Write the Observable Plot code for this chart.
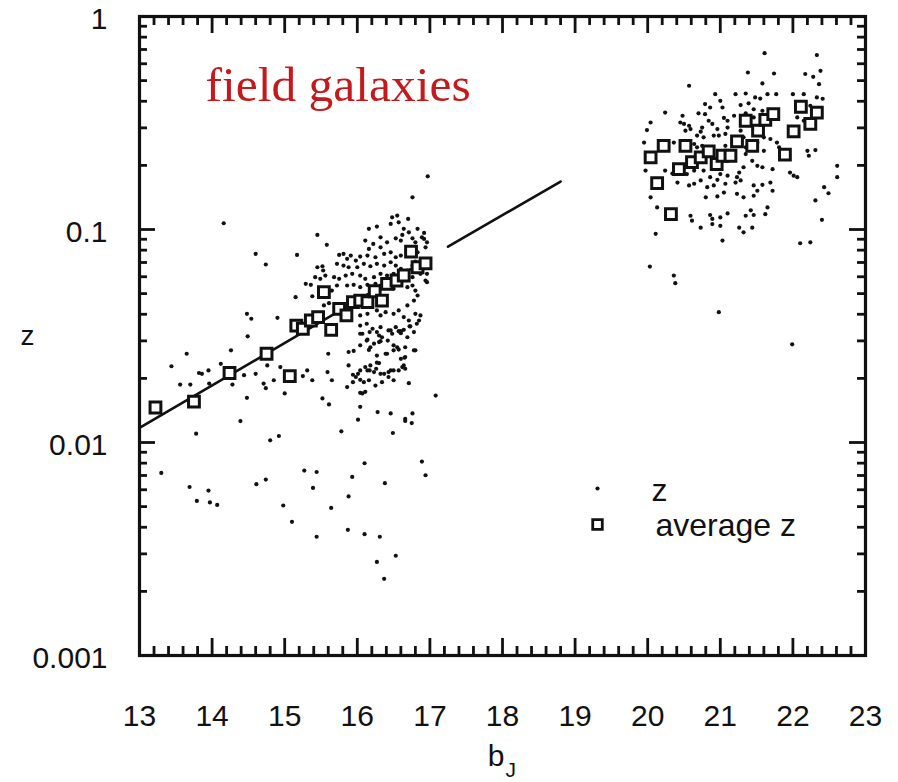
<!DOCTYPE html>
<html><head><meta charset="utf-8">
<script src="https://cdn.jsdelivr.net/npm/d3@7"></script>
<script src="https://cdn.jsdelivr.net/npm/@observablehq/plot@0.6"></script>
<style>
html,body{margin:0;padding:0;background:#fff;}
#chart{width:898px;height:782px;}
</style></head><body><div id="chart"></div>
<script>
// ---- tick labels ----
const xTickLabels = [13,14,15,16,17,18,19,20,21,22,23];
const yTickLabels = [1,0.1,0.01,0.001];
const yTickText = ["1","0.1","0.01","0.001"];
const titleText = "field galaxies";
const legendLabels = ["z","average z"];
const xLabel = ["b","J"];
const yLabel = "z";

// ---- individual galaxy redshifts [bJ, z] ----
const zPoints = [
[13.78,0.0110],[13.30,0.00720],[13.69,0.00618],[13.79,0.00532],[13.95,0.00595],[13.97,0.00523],[14.07,0.00509],[14.39,0.0126],[14.61,0.00637],[14.74,0.00670],[14.80,0.01024],[14.92,0.01073],[14.98,0.00506],[15.10,0.00424],[15.27,0.00738],[15.44,0.00727],[15.39,0.00612],[15.44,0.00361],[15.64,0.00493],[15.78,0.01128],[15.93,0.00689],[15.88,0.00558],[15.87,0.00389],[16.10,0.00799],[16.10,0.00371],[16.31,0.00361],[16.27,0.00275],[16.37,0.00229],[16.38,0.00644],[16.53,0.00294],[16.49,0.01108],[16.66,0.01262],[16.75,0.01234],[16.89,0.00814],[16.94,0.00702],
[14.16,0.107],[14.60,0.0769],[14.74,0.0685],[15.17,0.0760],[15.45,0.0943],[15.58,0.0847],[15.15,0.0481],[14.48,0.0402],[14.54,0.0381],[14.90,0.0385],[14.49,0.0315],[13.65,0.0261],[13.44,0.0228],[14.26,0.0271],[14.12,0.0234],[13.82,0.0212],[13.86,0.0210],[13.95,0.0218],[13.56,0.0187],[13.70,0.0187],[13.96,0.0189],[14.28,0.0187],[14.44,0.0207],[14.60,0.0210],[14.71,0.0189],[14.74,0.0180],[14.76,0.0230],[14.94,0.0226],[14.85,0.0196],[14.48,0.0162],[15.00,0.0170],[15.25,0.0205],[15.31,0.0218],[15.38,0.0196],[15.59,0.0214],[15.52,0.0161],[15.61,0.0151],[15.60,0.0261],[16.01,0.0128],[16.28,0.0139],[16.76,0.0137],[17.08,0.0166],[16.71,0.0190],[15.86,0.0182],[15.94,0.0192],[16.04,0.0171],[16.09,0.0192],[16.14,0.0218],[16.26,0.0222],[16.37,0.0210],[16.46,0.0218],[16.62,0.0226],[16.65,0.0250],[15.88,0.0230],[15.94,0.0208],[16.01,0.0210],[16.18,0.0230],[16.27,0.0237],[15.88,0.0266],[15.95,0.0269],[16.04,0.0286],[16.14,0.0304],[16.18,0.0280],[16.30,0.0296],[16.41,0.0261],[16.50,0.0271],[16.57,0.0273],[16.78,0.0271],[16.66,0.0252],[16.04,0.0324],[16.17,0.0330],[16.30,0.0318],[16.46,0.0336],[16.60,0.0333],[16.72,0.0351],
[16.76,0.1416],[16.97,0.1776],[16.16,0.1007],[16.27,0.1032],[16.32,0.0919],[16.48,0.1141],[16.55,0.1162],[16.57,0.1081],[16.70,0.1121],[16.46,0.1062],[16.64,0.1007],[16.62,0.0943],[16.71,0.0970],[16.83,0.1007],[16.92,0.0964],[16.89,0.0919],[16.11,0.0887],[16.22,0.0856],[16.16,0.0811],[16.32,0.0825],[16.41,0.0871],[16.53,0.0909],[16.60,0.0887],[16.76,0.0909],[16.80,0.0871],[16.92,0.0903],[16.96,0.0871],[16.94,0.0825],[15.75,0.0760],[15.81,0.0769],[15.86,0.0728],[15.91,0.0754],[15.98,0.0715],[16.04,0.0746],[16.14,0.0754],[16.25,0.0741],[16.37,0.0769],[16.46,0.0781],[16.53,0.0741],[16.60,0.0754],[16.83,0.0781],[16.80,0.0707],[16.76,0.0677],[16.87,0.0665],[15.72,0.0690],[15.81,0.0677],[15.88,0.0665],[16.00,0.0665],[16.09,0.0690],[16.18,0.0672],[16.27,0.0690],[16.37,0.0677],[16.46,0.0702],[16.53,0.0677],[16.60,0.0654],[16.69,0.0642],[16.96,0.0619],[15.45,0.0665],[15.52,0.0672],[15.53,0.0642],[15.42,0.0597],[15.49,0.0587],[15.56,0.0608],[15.68,0.0597],[15.75,0.0587],[15.84,0.0608],[15.93,0.0619],[16.04,0.0608],[16.11,0.0587],[16.23,0.0597],[16.32,0.0619],[16.41,0.0608],[16.50,0.0619],[16.76,0.0597],[16.87,0.0619],[16.94,0.0576],[16.96,0.0566],[15.29,0.0556],[15.36,0.0550],[15.38,0.0486],[15.65,0.0517],[15.72,0.0546],[15.86,0.0546],[15.95,0.0550],[16.04,0.0536],[16.14,0.0550],[16.25,0.0556],[16.32,0.0546],[16.50,0.0527],[16.69,0.0536],[16.76,0.0546],[16.80,0.0517],[16.83,0.0490],[16.78,0.0464],
[15.54,0.0440],[15.61,0.0451],[16.04,0.0395],[16.14,0.0402],[16.27,0.0417],[16.32,0.0395],[16.39,0.0409],[16.50,0.0402],[16.57,0.0417],[16.69,0.0440],[16.80,0.0402],[16.85,0.0374],[16.87,0.0395],[16.64,0.0388],[16.71,0.0374],[16.04,0.0354],[16.13,0.0361],[16.21,0.0342],[16.32,0.0348],[16.43,0.0336],[16.53,0.0348],[16.57,0.0333],[16.64,0.0338],[16.73,0.0351],[16.82,0.0361],[16.07,0.0324],[16.27,0.0330],[16.34,0.0312],[16.48,0.0324],[16.60,0.0326],[16.69,0.0312],[16.78,0.0330],[16.13,0.0301],[16.23,0.0291],[16.32,0.0299],[16.42,0.0301],[16.50,0.0286],[16.55,0.0280],[16.66,0.0280],[16.80,0.0271],[16.16,0.0272],[16.27,0.0256],[16.39,0.0261],[16.60,0.0247],[16.66,0.0222],[16.57,0.0218],[16.04,0.0218],[16.11,0.0226],[16.17,0.0218],[16.23,0.0214],[16.30,0.0236],[16.32,0.0210],[16.43,0.0214],[16.50,0.0218],[16.64,0.0230],[15.98,0.0203],[16.04,0.0197],[16.16,0.0196],[16.25,0.0185],[16.34,0.0192],[16.43,0.0203],[16.50,0.0196],[16.07,0.0170],[16.11,0.0173],[16.04,0.0147],[16.46,0.0137],[16.66,0.0129],[15.65,0.0196],
[21.74,0.540],[21.38,0.546],[20.57,0.473],[21.58,0.485],[21.35,0.435],[21.21,0.432],[20.93,0.432],[21.00,0.402],[20.79,0.388],[20.86,0.374],[21.48,0.417],[21.55,0.412],[21.65,0.432],[21.77,0.432],[21.28,0.384],[21.39,0.391],[21.03,0.374],[21.46,0.367],[21.35,0.351],[20.24,0.354],[20.48,0.342],[20.70,0.351],[20.79,0.348],[20.84,0.324],[20.89,0.313],[21.05,0.334],[21.10,0.324],[21.19,0.342],[21.58,0.361],[21.78,0.346],[20.04,0.318],[20.45,0.318],[20.50,0.313],[20.57,0.307],[20.59,0.296],[20.52,0.291],[20.75,0.301],[20.73,0.288],[20.96,0.296],[20.98,0.276],[21.10,0.301],[21.28,0.291],[21.46,0.336],[19.99,0.293],[20.68,0.276],[20.77,0.271],[20.91,0.276],[21.07,0.281],[21.19,0.266],[21.32,0.271],[21.60,0.271],[21.69,0.266],[19.95,0.256],[20.36,0.256],[20.64,0.252],[20.68,0.243],[20.75,0.247],[21.07,0.247],[21.14,0.234],[21.35,0.243],[21.51,0.256],[21.60,0.234],[21.35,0.226],[21.78,0.256],[21.81,0.243],[22.20,0.234],[22.31,0.236],[22.22,0.222],[22.15,0.432],[22.17,0.537],[22.28,0.521],[22.38,0.556],[22.33,0.417],[22.41,0.411],[22.00,0.432],[22.36,0.481],[22.06,0.336],[22.15,0.324],[22.24,0.381],[22.36,0.367],
[19.97,0.189],[20.24,0.189],[20.34,0.183],[20.54,0.182],[20.64,0.189],[20.77,0.189],[20.86,0.176],[21.00,0.182],[21.10,0.179],[21.26,0.185],[21.32,0.196],[21.44,0.210],[21.51,0.199],[21.58,0.196],[21.72,0.192],[20.41,0.166],[20.57,0.161],[20.64,0.164],[20.73,0.170],[20.82,0.158],[20.91,0.161],[20.96,0.171],[21.07,0.164],[21.21,0.166],[21.23,0.176],[21.28,0.170],[21.46,0.161],[21.58,0.162],[21.69,0.166],[21.96,0.185],[22.01,0.179],[22.06,0.176],[22.61,0.199],[22.61,0.176],[22.43,0.158],[22.49,0.148],[22.31,0.137],[22.40,0.111],[22.10,0.0862],[22.24,0.0871],[20.80,0.1416],[20.96,0.143],[21.05,0.149],[21.23,0.147],[21.32,0.1416],[21.46,0.144],[21.51,0.152],[21.72,0.152],[21.65,0.127],[21.62,0.118],[21.42,0.123],[21.46,0.117],[21.35,0.116],[20.04,0.1416],[20.13,0.127],[20.59,0.116],[20.61,0.110],[20.86,0.117],[20.89,0.1121],[21.00,0.114],[21.10,0.119],[20.73,0.102],[20.89,0.106],[21.00,0.104],[21.26,0.102],[21.32,0.0970],[21.44,0.102],[21.03,0.0887],[20.11,0.0954],[20.03,0.0670],[20.36,0.0608],[20.38,0.0560],[20.98,0.0409],[21.61,0.673],[22.33,0.659],[21.99,0.0289]
];

// ---- average redshift per bJ bin [bJ, z] ----
const avgPoints = [
[13.22,0.0146],[13.75,0.01555],[14.24,0.0212],[14.75,0.0261],[15.07,0.0205],[15.16,0.0354],[15.25,0.0342],[15.36,0.0374],[15.46,0.0388],[15.54,0.0508],[15.64,0.0338],[15.75,0.0424],[15.85,0.0395],[15.94,0.0456],[16.04,0.0464],[16.14,0.0456],[16.24,0.0513],[16.34,0.0464],[16.41,0.0556],[16.54,0.0576],[16.64,0.0608],[16.74,0.0788],[16.83,0.0665],[16.94,0.0694],
[20.04,0.218],[20.22,0.247],[20.13,0.165],[20.32,0.118],[20.43,0.192],[20.52,0.247],[20.61,0.207],[20.73,0.218],[20.84,0.2326],[20.95,0.203],[21.03,0.222],[21.14,0.222],[21.23,0.259],[21.35,0.324],[21.44,0.247],[21.52,0.291],[21.62,0.327],[21.73,0.348],[21.89,0.2245],[22.01,0.289],[22.11,0.377],[22.24,0.313],[22.33,0.354]
];

// ---- fitted Hubble line (two drawn pieces) ----
const fitLine = [
{bJ:13.0, z:0.0117, seg:1},{bJ:16.9, z:0.0703, seg:1},
{bJ:17.25, z:0.0830, seg:2},{bJ:18.8, z:0.168, seg:2}
];

const dots = zPoints.map(([bJ,z]) => ({bJ, z}));
const avgs = avgPoints.map(([bJ,z]) => ({bJ, z}));

const W = 898, H = 782, mL = 139, mR = 33, mT = 16, mB = 127;
const innerW = W - mL - mR, innerH = H - mT - mB;
const xMajor = d3.range(14, 23);
const xMinor = d3.range(13.2, 22.9, 0.2).filter(v => Math.abs(v - Math.round(v)) > 1e-6);
const yMajor = [0.01, 0.1];
const yMinor = [];
for (const d of [0.001, 0.01, 0.1]) for (let k = 2; k <= 9; k++) yMinor.push(d * k);

const sans = "'Liberation Sans', Arial, Helvetica, sans-serif";
const ink = "#111";
const tk = {stroke: ink, strokeWidth: 2.8};
const xMajLen = 17, xMinLen = 9, yMajLen = 16, yMinLen = 8;

const chart = Plot.plot({
  width: W, height: H,
  marginLeft: mL, marginRight: mR, marginTop: mT, marginBottom: mB,
  x: {domain: [13, 23], axis: null},
  y: {type: "log", domain: [0.001, 1], axis: null},
  marks: [
    Plot.frame({stroke: ink, strokeWidth: 3.2, fill: "none"}),
    // inward ticks on all four sides
    Plot.tickX(xMajor, {x: d => d, insetTop: innerH - xMajLen, ...tk}),
    Plot.tickX(xMinor, {x: d => d, insetTop: innerH - xMinLen, ...tk}),
    Plot.tickX(xMajor, {x: d => d, insetBottom: innerH - xMajLen, ...tk}),
    Plot.tickX(xMinor, {x: d => d, insetBottom: innerH - xMinLen, ...tk}),
    Plot.tickY(yMajor, {y: d => d, insetRight: innerW - yMajLen, ...tk}),
    Plot.tickY(yMinor, {y: d => d, insetRight: innerW - yMinLen, ...tk}),
    Plot.tickY(yMajor, {y: d => d, insetLeft: innerW - yMajLen, ...tk}),
    Plot.tickY(yMinor, {y: d => d, insetLeft: innerW - yMinLen, ...tk}),
    // data
    Plot.line(fitLine, {x: "bJ", y: "z", z: "seg", stroke: ink, strokeWidth: 2.6}),
    Plot.dot(dots, {x: "bJ", y: "z", r: 2.1, fill: ink, stroke: "none"}),
    Plot.dot(avgs, {x: "bJ", y: "z", symbol: "square", r: 6.1, fill: "white", stroke: ink, strokeWidth: 3}),
    // tick labels
    Plot.text(xTickLabels, {x: d => d, text: d => String(d), frameAnchor: "bottom", dy: 70, lineAnchor: "bottom", fontSize: 30, fontFamily: sans, fill: ink}),
    Plot.text(yTickLabels, {y: d => d, text: (d, i) => yTickText[i], frameAnchor: "left", dx: -32, dy: 3, textAnchor: "end", lineAnchor: "middle", fontSize: 30, fontFamily: sans, fill: ink}),
    // axis labels
    Plot.text([yLabel], {text: d => d, frameAnchor: "left", dx: -112, dy: 0, textAnchor: "middle", lineAnchor: "middle", fontSize: 28, fontFamily: sans, fill: ink}),
    Plot.text([xLabel[0]], {text: d => d, frameAnchor: "bottom", dx: 2, dy: 110, textAnchor: "end", lineAnchor: "bottom", fontSize: 30, fontFamily: sans, fill: ink}),
    Plot.text([xLabel[1]], {text: d => d, frameAnchor: "bottom", dx: 3, dy: 121, textAnchor: "start", lineAnchor: "bottom", fontSize: 21, fontFamily: sans, fill: ink}),
    // title inside plot
    Plot.text([titleText], {text: d => d, frameAnchor: "top-left", dx: 66, dy: 84, textAnchor: "start", lineAnchor: "bottom", fontSize: 49.5, fontFamily: "'Liberation Serif', 'Times New Roman', serif", fill: "#c41a1e"}),
    // legend
    Plot.dot([0], {frameAnchor: "top-left", dx: 458, dy: 472, r: 2.1, fill: ink, stroke: "none"}),
    Plot.dot([0], {frameAnchor: "top-left", dx: 458, dy: 508, symbol: "square", r: 5.4, fill: "white", stroke: ink, strokeWidth: 2.8}),
    Plot.text([legendLabels[0]], {text: d => d, frameAnchor: "top-left", dx: 512, dy: 484, textAnchor: "start", lineAnchor: "bottom", fontSize: 32, fontFamily: sans, fill: ink}),
    Plot.text([legendLabels[1]], {text: d => d, frameAnchor: "top-left", dx: 516, dy: 519, textAnchor: "start", lineAnchor: "bottom", fontSize: 32, fontFamily: sans, fill: ink})
  ]
});
document.getElementById("chart").appendChild(chart);
</script>
</body></html>
